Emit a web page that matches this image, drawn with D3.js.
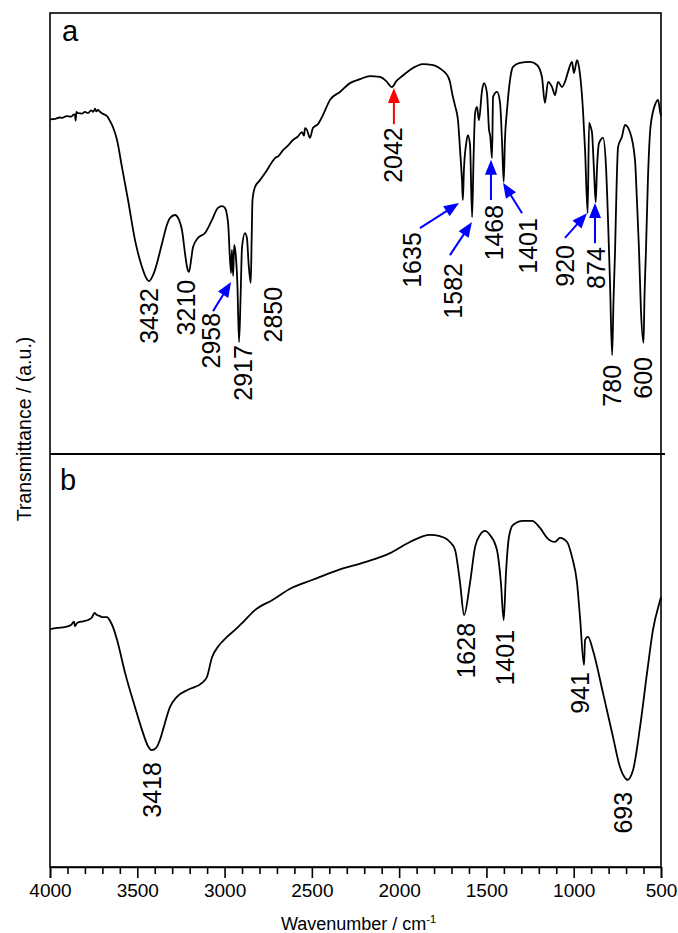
<!DOCTYPE html>
<html lang="en">
<head>
<meta charset="UTF-8">
<title>FTIR spectra a / b</title>
<script src="https://d3js.org/d3.v7.min.js"></script>
<style>
  body { margin: 0; background: #fff; }
  text { font-family: Arial, "Liberation Sans", sans-serif; fill: #000; }
</style>
</head>
<body>
<script>
    // spectrum a : [wavenumber (cm-1), transmittance (a.u., 0-100 within panel a)]
    var spectrumA = [
        [4000,75.9],[3970,76.0],[3945,76.3],[3931,76.2],[3905,76.6],[3880,76.5],[3862,77.0],[3857,76.9],
        [3853,75.6],[3849,77.6],[3840,77.3],[3815,77.2],[3800,77.6],[3782,77.3],[3765,77.9],[3752,77.6],
        [3742,78.3],[3735,77.7],[3725,78.0],[3714,77.6],[3700,77.2],[3673,76.6],[3655,75.4],[3639,74.1],
        [3616,71.2],[3588,65.1],[3553,57.6],[3513,48.5],[3473,42.4],[3450,40.0],[3432,39.2],[3415,40.1],
        [3399,41.7],[3358,47.8],[3330,52.0],[3313,53.5],[3284,54.2],[3260,53.0],[3244,50.8],[3225,45.0],
        [3215,42.4],[3204,41.3],[3190,44.5],[3181,46.9],[3152,49.0],[3112,50.1],[3072,53.1],[3038,55.8],
        [3015,56.2],[2998,55.8],[2980,52.4],[2963,41.0],[2958,46.3],[2951,40.4],[2945,47.4],[2936,45.1],
        [2927,39.0],[2917,25.4],[2908,36.0],[2900,46.9],[2883,50.1],[2872,49.0],[2862,43.0],[2850,38.8],
        [2845,48.5],[2840,57.6],[2826,60.5],[2797,62.1],[2768,63.7],[2728,66.2],[2711,67.1],[2690,67.6],
        [2665,68.9],[2640,69.8],[2608,71.2],[2580,72.0],[2557,73.0],[2545,72.2],[2539,73.9],[2528,73.5],
        [2511,71.7],[2494,73.9],[2465,74.8],[2436,76.9],[2396,80.3],[2339,82.1],[2282,84.1],[2224,85.0],
        [2167,85.7],[2110,85.5],[2070,84.4],[2042,83.2],[2015,84.6],[1995,85.3],[1938,87.1],[1863,88.4],
        [1806,88.2],[1755,87.1],[1730,86.2],[1709,84.4],[1695,81.5],[1680,79.0],[1663,75.7],[1651,68.9],
        [1640,62.0],[1635,57.6],[1629,64.4],[1617,70.1],[1606,72.3],[1594,70.1],[1582,53.7],[1574,66.7],
        [1565,77.3],[1554,78.7],[1543,75.7],[1525,82.5],[1514,84.1],[1497,81.9],[1485,73.5],[1478,72.0],
        [1468,67.1],[1462,81.0],[1439,82.1],[1422,79.6],[1411,71.2],[1401,61.7],[1394,71.2],[1382,78.0],
        [1365,84.8],[1348,87.8],[1308,88.7],[1250,88.9],[1210,88.2],[1182,85.5],[1165,79.6],[1147,84.4],
        [1124,83.2],[1107,81.4],[1090,84.4],[1067,83.2],[1050,84.4],[1033,86.6],[1010,88.9],[999,86.4],
        [981,89.3],[970,87.8],[947,78.0],[935,68.9],[920,54.6],[912,75.1],[901,73.9],[895,72.8],
        [884,64.4],[874,57.1],[867,64.4],[855,70.5],[832,71.7],[815,65.1],[804,53.7],[792,38.8],
        [780,22.4],[772,34.9],[763,46.3],[755,59.9],[746,69.6],[724,71.9],[706,74.6],[678,73.0],
        [649,66.7],[638,57.6],[626,46.3],[615,32.7],[600,25.2],[595,34.9],[586,46.3],[575,62.1],
        [563,72.8],[546,77.6],[535,79.1],[517,80.3],[505,77.6],[500,76.6]
    ];

    // spectrum b : [wavenumber (cm-1), transmittance (a.u., 0-100 within panel b)]
    var spectrumB = [
        [4000,57.6],[3960,57.9],[3914,58.1],[3880,58.6],[3862,59.4],[3858,58.3],[3845,59.1],[3810,59.5],
        [3782,59.8],[3760,60.4],[3745,61.5],[3731,61.0],[3715,60.8],[3702,60.5],[3673,60.5],[3655,59.5],
        [3639,58.1],[3616,55.0],[3570,47.0],[3513,38.7],[3473,33.2],[3439,29.3],[3418,28.3],[3393,28.8],
        [3370,30.8],[3353,33.2],[3313,38.7],[3273,41.2],[3210,42.9],[3129,44.6],[3101,46.0],[3072,50.8],
        [3038,53.3],[2986,55.7],[2940,57.4],[2883,59.8],[2826,62.2],[2728,64.6],[2614,67.6],[2499,69.5],
        [2350,71.9],[2196,73.8],[2052,76.0],[1938,78.7],[1823,80.4],[1766,80.1],[1730,79.5],[1709,78.7],
        [1680,76.8],[1651,68.8],[1628,61.0],[1594,68.8],[1565,77.5],[1537,80.4],[1508,81.4],[1480,80.4],
        [1440,76.8],[1417,68.8],[1401,59.8],[1388,71.2],[1371,79.9],[1348,82.8],[1291,83.8],[1239,83.8],
        [1193,82.1],[1153,79.7],[1107,78.7],[1079,79.7],[1038,78.7],[1010,75.1],[981,68.8],[964,60.5],
        [941,48.9],[935,55.0],[918,55.7],[890,52.5],[832,42.1],[775,31.5],[735,24.2],[700,21.3],
        [693,21.1],[660,23.5],[620,33.9],[580,47.0],[546,57.4],[505,64.6],[500,65.4]
    ];

    // peak labels: text, wavenumber and value at the top end of the (rotated) label
    var labelsA = [
        {text:"3432", w:3433, v:37.6}, {text:"3210", w:3221, v:39.5}, {text:"2958", w:3078, v:32.0},
        {text:"2917", w:2894, v:24.7}, {text:"2850", w:2723, v:37.9}, {text:"2042", w:2035, v:74.1},
        {text:"1635", w:1926, v:50.3}, {text:"1582", w:1692, v:43.3}, {text:"1468", w:1457, v:56.5},
        {text:"1401", w:1262, v:53.5}, {text:"920",  w:1050, v:47.4}, {text:"874",  w:872,  v:46.9},
        {text:"780",  w:781,  v:20.2}, {text:"600",  w:603,  v:22.0}
    ];
    var labelsB = [
        {text:"3418", w:3416, v:25.4}, {text:"1628", w:1617, v:59.1}, {text:"1401", w:1394, v:57.4},
        {text:"941",  w:964,  v:47.2}, {text:"693",  w:718,  v:18.2}
    ];

    // arrows in panel a: tail -> tip, [wavenumber, value]
    var arrowsA = [
        {color:"#ff0000", from:[2030,74.8], to:[2030,83.0]},
        {color:"#0000ff", from:[3066,32.4], to:[2963,39.0]},
        {color:"#0000ff", from:[1881,51.2], to:[1657,56.9]},
        {color:"#0000ff", from:[1709,45.1], to:[1583,52.6]},
        {color:"#0000ff", from:[1474,57.6], to:[1474,66.7]},
        {color:"#0000ff", from:[1296,54.6], to:[1405,61.5]},
        {color:"#0000ff", from:[1050,49.0], to:[924,54.6]},
        {color:"#0000ff", from:[878,47.8],  to:[878,56.9]}
    ];

    var xTicks = [4000, 3500, 3000, 2500, 2000, 1500, 1000, 500];
    var xMinorTicks = d3.range(500, 4001, 100);

    var W = 678, H = 933;
    var margin = {top: 13, right: 17, bottom: 66, left: 50};
    var width = W - margin.left - margin.right,
        height = H - margin.top - margin.bottom;
    var split = 441; // panel a height

    var svg = d3.select("body").append("svg")
        .attr("width", W)
        .attr("height", H);
    var g = svg.append("g")
        .attr("transform", "translate(" + margin.left + "," + margin.top + ")");

    var x = d3.scaleLinear().domain([4000, 500]).range([0, width]);
    var yA = d3.scaleLinear().domain([0, 100]).range([split, 0]);
    var yB = d3.scaleLinear().domain([0, 100]).range([height, split]);

    function drawSpectrum(data, y) {
        var line = d3.line()
            .x(function(d) { return x(d[0]); })
            .y(function(d) { return y(d[1]); })
            .curve(d3.curveMonotoneX);
        g.append("path")
            .datum(data)
            .attr("fill", "none")
            .attr("stroke", "#000")
            .attr("stroke-width", 1.8)
            .attr("stroke-linejoin", "round")
            .attr("d", line);
    }
    drawSpectrum(spectrumA, yA);
    drawSpectrum(spectrumB, yB);

    function drawLabels(labels, y) {
        g.selectAll(null)
            .data(labels)
            .enter().append("text")
            .attr("transform", function(d) {
                return "translate(" + x(d.w) + "," + y(d.v) + ") rotate(-90)";
            })
            .attr("text-anchor", "end")
            .attr("dy", "0.35em")
            .style("font-size", "25px")
            .text(function(d) { return d.text; });
    }
    drawLabels(labelsA, yA);
    drawLabels(labelsB, yB);

    // arrows with triangular heads
    arrowsA.forEach(function(a) {
        var x0 = x(a.from[0]), y0 = yA(a.from[1]),
            x1 = x(a.to[0]), y1 = yA(a.to[1]);
        var dx = x1 - x0, dy = y1 - y0, len = Math.sqrt(dx*dx + dy*dy);
        var ux = dx / len, uy = dy / len;
        var headL = 15, headW = 6;
        var bx = x1 - ux*headL, by = y1 - uy*headL;
        g.append("line")
            .attr("x1", x0).attr("y1", y0)
            .attr("x2", bx + ux*2).attr("y2", by + uy*2)
            .attr("stroke", a.color)
            .attr("stroke-width", 2);
        g.append("path")
            .attr("d", "M" + x1 + "," + y1 +
                       "L" + (bx - uy*headW) + "," + (by + ux*headW) +
                       "L" + (bx + uy*headW) + "," + (by - ux*headW) + "Z")
            .attr("fill", a.color);
    });

    // frame
    g.append("rect")
        .attr("x", 0).attr("y", 0)
        .attr("width", width).attr("height", height)
        .attr("fill", "none")
        .attr("stroke", "#000")
        .attr("stroke-width", 1.6);

    // divider between a and b
    g.append("line")
        .attr("x1", 0).attr("x2", width + 4)
        .attr("y1", split).attr("y2", split)
        .attr("stroke", "#000")
        .attr("stroke-width", 2.2);

    // x axis
    var xAxis = g.append("g")
        .attr("transform", "translate(0," + height + ")")
        .call(d3.axisBottom(x).tickValues(xTicks).tickSize(11).tickPadding(6)
            .tickFormat(d3.format("d")));
    xAxis.select(".domain").attr("stroke-width", 1.6);
    xAxis.selectAll(".tick line").attr("stroke-width", 1.6);
    xAxis.selectAll(".tick text")
        .style("font-size", "19px")
        .style("font-family", "Arial, 'Liberation Sans', sans-serif");

    g.append("g")
        .attr("transform", "translate(0," + height + ")")
        .call(d3.axisBottom(x).tickValues(xMinorTicks.filter(function(t) { return t % 500 !== 0; }))
            .tickSize(7).tickFormat(""))
        .call(function(s) {
            s.select(".domain").remove();
            s.selectAll(".tick line").attr("stroke-width", 1.6);
        });

    // axis titles
    var xTitle = svg.append("text")
        .attr("x", margin.left + width / 2 + 3)
        .attr("y", 930)
        .attr("text-anchor", "middle")
        .style("font-size", "18px");
    xTitle.append("tspan").text("Wavenumber / cm");
    xTitle.append("tspan").attr("dy", "-0.6em").style("font-size", "11px").text("-1");

    svg.append("text")
        .attr("transform", "translate(31,429) rotate(-90)")
        .attr("text-anchor", "middle")
        .style("font-size", "19.5px")
        .text("Transmittance / (a.u.)");

    // panel letters
    g.append("text").attr("x", 12).attr("y", 28)
        .style("font-size", "29px").text("a");
    g.append("text").attr("x", 10).attr("y", split + 36)
        .style("font-size", "29px").text("b");
</script>
</body>
</html>
